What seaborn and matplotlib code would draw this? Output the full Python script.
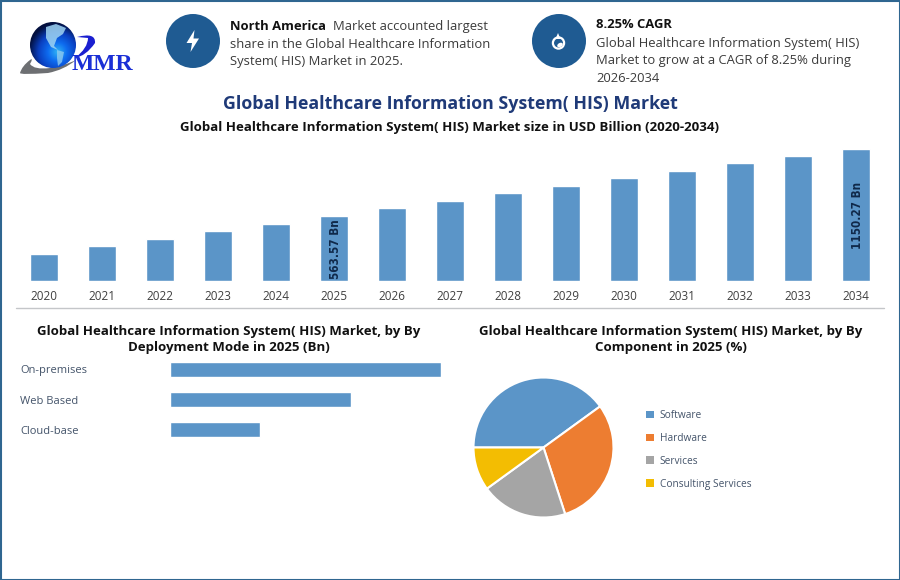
import numpy as np
import pandas as pd
import matplotlib
matplotlib.use("Agg")
import matplotlib.pyplot as plt
from matplotlib.colors import LinearSegmentedColormap
from matplotlib.patches import Circle, Polygon, Rectangle, PathPatch, Ellipse
from matplotlib.path import Path
import seaborn as sns

years = ["2020", "2021", "2022", "2023", "2024", "2025", "2026", "2027",
         "2028", "2029", "2030", "2031", "2032", "2033", "2034"]
market_size = [237, 307, 369, 439, 500, 563.57, 632, 694,
               764, 825, 896, 957, 1027, 1089, 1150.27]
size_labels = ["", "", "", "", "", "563.57 Bn", "", "", "", "", "", "", "", "", "1150.27 Bn"]

deployment = ["On-premises", "Web Based", "Cloud-base"]
deployment_values = [3, 2, 1]

components = ["Software", "Hardware", "Services", "Consulting Services"]
component_share = [40, 30, 20, 10]
component_colors = ["#5b95c8", "#ed7d31", "#a5a5a5", "#f3bd02"]

BLUE = "#5b95c8"
W, H = 900, 580

sns.set_theme(style="white")
plt.rcParams["font.family"] = ["Open Sans", "DejaVu Sans"]

fig = plt.figure(figsize=(9, 5.8), dpi=100, facecolor="white")


def px_axes(left, top, right, bottom, **kw):
    return fig.add_axes([left / W, 1 - bottom / H, (right - left) / W, (bottom - top) / H], **kw)


# background layer in pixel coordinates: frame, logo, icons, divider
bg = px_axes(0, 0, W, H)
bg.set_xlim(0, W)
bg.set_ylim(H, 0)
bg.axis("off")
bg.add_patch(Rectangle((0.5, 0.5), W - 1, H - 1, fill=False, ec="#2f6690", lw=1.5))
bg.plot([16, 884], [308, 308], color="#c4c6c9", lw=1)

# logo
yy, xx = np.mgrid[-1:1:200j, -1:1:200j]
rr = np.sqrt((xx - 0.2) ** 2 + (yy - 0.3) ** 2)
globe_cmap = LinearSegmentedColormap.from_list("globe", ["#30b4f5", "#0e6cf0", "#0a3fc0", "#03103f"])
globe = bg.imshow(rr, extent=(30, 76, 68, 22), cmap=globe_cmap, vmin=0, vmax=1.25, zorder=2, aspect="auto")
globe.set_clip_path(Circle((53, 45), 23, transform=bg.transData))
bg.add_patch(Polygon([(46, 27), (56, 24), (66, 28), (63, 34), (57, 38), (54, 46), (58, 50),
                      (51, 47), (46, 38)], fc="#9fd4f2", ec="none", zorder=3, alpha=0.85))
bg.add_patch(Polygon([(57, 50), (64, 52), (62, 62), (58, 66), (57, 58)], fc="#8fcbef", ec="none", zorder=3, alpha=0.8))
swoosh = Path([(20, 73), (22, 66), (30, 60), (34, 57), (30, 64), (34, 70), (50, 68), (66, 65), (76, 60),
               (64, 70), (48, 73), (20, 75), (20, 73)],
              [1, 3, 3, 3, 3, 3, 3, 3, 3, 3, 3, 3, 2])
bg.add_patch(PathPatch(swoosh, fc="#6d6f72", ec="none", zorder=1))
hook = Path([(77, 37), (96, 32), (95, 43), (86, 56), (75, 58), (88, 48), (88, 38), (77, 37)],
            [1, 3, 3, 3, 3, 3, 3, 2])
bg.add_patch(PathPatch(hook, fc="#1a1fd0", ec="none", zorder=1))
bg.text(72, 70, "MMR", family=["Liberation Serif"], fontsize=17, weight="bold", color="#1a2fd6",
        va="baseline", ha="left", zorder=4)

# icons
for cx in (193, 559):
    bg.add_patch(Circle((cx, 41), 27, fc="#1f5b92", ec="none"))
bg.add_patch(Polygon([(194.5, 30), (186.5, 43), (192, 43), (190.5, 52), (199, 38.5), (193.5, 38.5)], fc="white", ec="none"))
bg.add_patch(Circle((558.5, 43), 5.6, fc="none", ec="white", lw=1.6))
bg.add_patch(Polygon([(558, 33), (555.5, 39), (560.5, 39)], fc="white", ec="none"))
bg.add_patch(Ellipse((560, 45), 6, 4, angle=-30, fc="white", ec="none"))

# header text
TXT = "#3b3b3b"
BODY = 9.37
BOLD = 9.55
bg.text(230, 26.5, "North America", fontsize=BODY, weight="bold", color="#111111", va="center")
bg.text(333, 26.5, "Market accounted largest", fontsize=BODY, color=TXT, va="center")
bg.text(230, 44, "share in the Global Healthcare Information", fontsize=BODY, color=TXT, va="center")
bg.text(230, 61, "System( HIS) Market in 2025.", fontsize=BODY, color=TXT, va="center")
bg.text(596, 24, "8.25% CAGR", fontsize=BODY, weight="bold", color="#111111", va="center")
bg.text(596, 43, "Global Healthcare Information System( HIS)", fontsize=BODY, color=TXT, va="center")
bg.text(596, 60.5, "Market to grow at a CAGR of 8.25% during", fontsize=BODY, color=TXT, va="center")
bg.text(596, 78, "2026-2034", fontsize=BODY, color=TXT, va="center")

bg.text(450, 104, "Global Healthcare Information System( HIS) Market", fontsize=12.8, weight="bold",
        color="#1f3a78", ha="center", va="center")
bg.text(450, 127, "Global Healthcare Information System( HIS) Market size in USD Billion (2020-2034)",
        fontsize=BOLD, weight="bold", color="#111111", ha="center", va="center")
bg.text(228.5, 331, "Global Healthcare Information System( HIS) Market, by By", fontsize=BOLD, weight="bold",
        color="#111111", ha="center", va="center")
bg.text(228.5, 348, "Deployment Mode in 2025 (Bn)", fontsize=BOLD, weight="bold",
        color="#111111", ha="center", va="center")
bg.text(671, 331, "Global Healthcare Information System( HIS) Market, by By", fontsize=BOLD, weight="bold",
        color="#111111", ha="center", va="center")
bg.text(671, 348, "Component in 2025 (%)", fontsize=BOLD, weight="bold",
        color="#111111", ha="center", va="center")

# market size bars
ax = px_axes(15, 149, 885, 281)
ax.patch.set_alpha(0)
df = pd.DataFrame({"year": years, "size": market_size})
sns.barplot(data=df, x="year", y="size", color=BLUE, saturation=1, width=0.475, ax=ax)
ax.set_ylim(0, 1150.27)
ax.set_xlabel("")
ax.set_ylabel("")
ax.set_yticks([])
ax.tick_params(axis="x", length=0, pad=6.5, labelsize=8.5, labelcolor="#404040")
sns.despine(ax=ax, left=True, bottom=True)
value_texts = ax.bar_label(ax.containers[0], labels=size_labels, label_type="center", rotation=90,
                           family="DejaVu Sans", stretch="condensed", weight="bold", fontsize=8.4, color="#10294a")
for t in value_texts:
    t.xyann = (1.1, 0)

# deployment bars
ax2 = px_axes(170, 354.5, 441, 444.5)
ax2.patch.set_alpha(0)
dep = pd.DataFrame({"mode": deployment, "value": deployment_values})
sns.barplot(data=dep, y="mode", x="value", color=BLUE, saturation=1, width=0.5, orient="h", ax=ax2)
ax2.set_xlim(0, 3)
ax2.set_xlabel("")
ax2.set_ylabel("")
ax2.set_xticks([])
ax2.tick_params(axis="y", length=0, pad=108, labelsize=8, labelcolor="#44546a")
for lab in ax2.get_yticklabels():
    lab.set_ha("left")
sns.despine(ax=ax2, left=True, bottom=True)

# component pie
ax3 = px_axes(473.5, 377.5, 613.5, 517.5)
wedges, _ = ax3.pie(component_share, colors=component_colors, startangle=180, counterclock=False,
                    radius=1, wedgeprops={"edgecolor": "white", "linewidth": 1.5})
ax3.set_xlim(-1, 1)
ax3.set_ylim(-1, 1)
leg = fig.legend(wedges, components, loc="upper left", bbox_to_anchor=(637.5 / W, 1 - 402 / H), frameon=False,
                 fontsize=7.3, labelcolor="#44546a", handlelength=0.79, handleheight=0.79,
                 handletextpad=0.6, labelspacing=1.17, borderpad=0.3)
for h in leg.legend_handles:
    h.set_edgecolor("none")

fig.savefig("out.png", dpi=100)
